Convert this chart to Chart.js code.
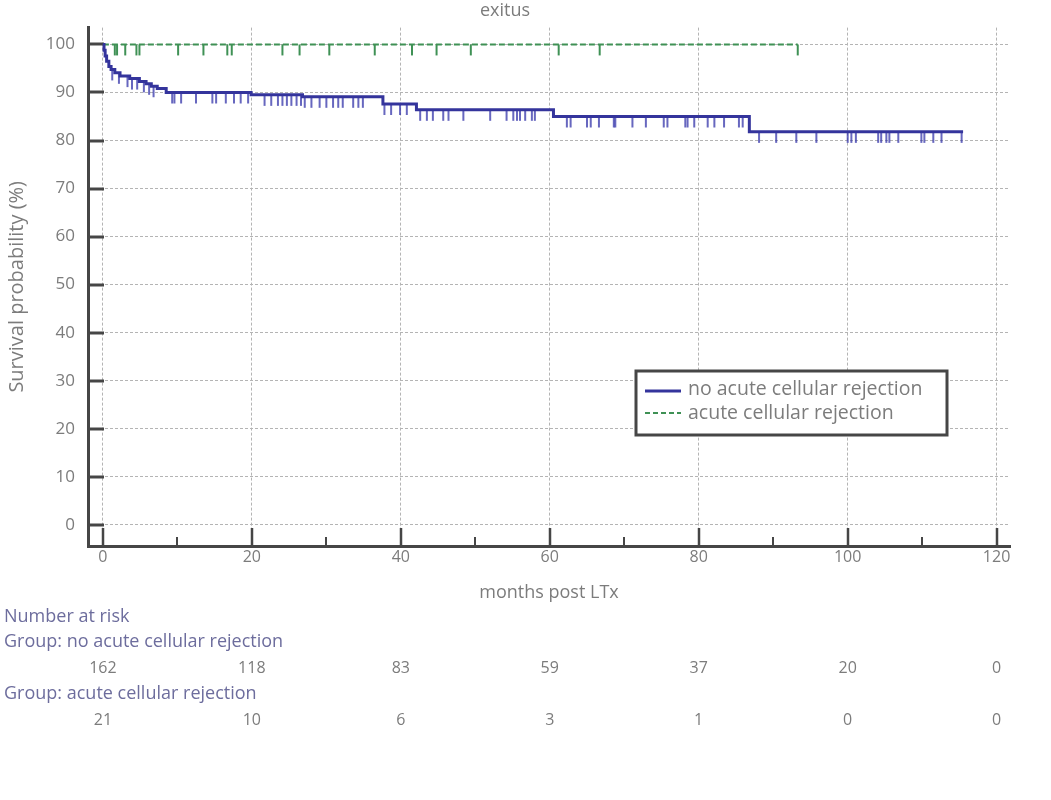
<!DOCTYPE html>
<html lang="en">
<head>
<meta charset="UTF-8">
<title>exitus</title>
<script src="https://cdn.jsdelivr.net/npm/chart.js@4.4.0/dist/chart.umd.min.js"></script>
<style>
    body { margin: 0; background: #fff; }
    canvas { display: block; }
</style>
</head>
<body>
<canvas id="km" width="1051" height="800"></canvas>
<script>
// Kaplan-Meier curve, group without acute cellular rejection (event time, survival %)
const noRejTimes = [0, 0.15, 0.3, 0.5, 0.8, 1.1, 1.6, 2.3, 3.6, 4.9, 5.8, 6.5, 7.3, 8.5, 19.9, 26.8, 37.6, 42.1, 60.5, 86.8, 115.5];
const noRejSurv  = [100, 98.8, 97.6, 96.5, 95.4, 94.8, 94.1, 93.4, 92.9, 92.3, 91.8, 91.3, 90.8, 90.0, 89.5, 89.1, 87.6, 86.4, 85.0, 81.8, 81.8];
// censored observations (months)
const noRejCensored = [1.25, 2.15, 3.3, 3.9, 4.6, 5.5, 6.2, 6.8, 9.3, 9.6, 10.5, 12.5, 14.7, 15.2, 16.5, 17.6, 18.5, 19.5,
    21.7, 22.6, 23.5, 24.1, 24.7, 25.3, 26.0, 26.6, 27.1, 28.0, 29.1, 30.0, 30.9, 31.6, 32.2, 33.6, 34.3, 34.9,
    37.8, 38.7, 39.9, 40.8, 42.6, 43.5, 44.3, 45.7, 46.4, 48.4, 52.0, 54.2, 55.1, 55.6, 56.0, 56.7, 57.6, 58.0,
    62.3, 62.8, 65.0, 65.5, 66.6, 68.6, 68.8, 71.1, 72.9, 75.3, 75.8, 78.2, 78.5, 79.4, 81.2, 82.1, 83.4, 85.4, 85.9,
    88.1, 90.4, 93.1, 95.8, 100.0, 100.5, 101.1, 104.1, 104.5, 105.2, 105.6, 106.8, 109.9, 110.3, 111.5, 112.6, 115.3];

// group with acute cellular rejection: no events
const rejTimes = [0, 93.3];
const rejSurv  = [100, 100];
const rejCensored = [1.6, 1.9, 3.0, 4.5, 4.9, 10.1, 13.5, 16.7, 17.3, 24.1, 26.4, 30.4, 36.5, 41.5, 44.8, 49.4, 61.2, 66.7, 93.3];

const xTicks = [0, 20, 40, 60, 80, 100, 120];
const xMinorTicks = [10, 30, 50, 70, 90, 110];
const yTicks = [0, 10, 20, 30, 40, 50, 60, 70, 80, 90, 100];

// number at risk table
const riskTimes = [0, 20, 40, 60, 80, 100, 120];
const riskNoRej = [162, 118, 83, 59, 37, 20, 0];
const riskRej   = [21, 10, 6, 3, 1, 0, 0];

const BLUE = '#34349c';
const GREEN = '#3f9155';
const AXIS = '#464646';
const TEXT = '#7c7c7c';
const GROUP_TEXT = '#6d6d9d';

Chart.defaults.font.family = "'Open Sans', sans-serif";

// survival value of a step curve at time t
function stepValue(times, surv, t) {
    let v = surv[0];
    for (let i = 0; i < times.length; i++) {
        if (times[i] <= t) v = surv[i];
    }
    return v;
}

// small vertical censor tick hanging below the curve
function censorMark(color, len, width) {
    const c = document.createElement('canvas');
    c.width = width + 2;
    c.height = len * 2 + 2;
    const g = c.getContext('2d');
    g.strokeStyle = color;
    g.lineWidth = width;
    g.beginPath();
    g.moveTo(c.width / 2, c.height / 2);
    g.lineTo(c.width / 2, c.height / 2 + len);
    g.stroke();
    return c;
}

const toPoints = (xs, ys) => xs.map((x, i) => ({ x: x, y: ys[i] }));
const censorPoints = (cs, times, surv) => cs.map(t => ({ x: t, y: stepValue(times, surv, t) }));

const decorations = {
    id: 'decorations',
    beforeDatasetsDraw(chart) {
        const { ctx, scales: { x, y } } = chart;
        ctx.save();
        ctx.strokeStyle = AXIS;
        ctx.lineWidth = 3;
        yTicks.forEach(v => {
            const py = Math.round(y.getPixelForValue(v));
            ctx.beginPath();
            ctx.moveTo(x.left, py);
            ctx.lineTo(x.left + 16, py);
            ctx.stroke();
        });
        ctx.lineWidth = 2.5;
        xTicks.forEach(v => {
            const px = Math.round(x.getPixelForValue(v));
            ctx.beginPath();
            ctx.moveTo(px, y.bottom);
            ctx.lineTo(px, y.bottom - 18);
            ctx.stroke();
        });
        ctx.lineWidth = 2;
        xMinorTicks.forEach(v => {
            const px = Math.round(x.getPixelForValue(v));
            ctx.beginPath();
            ctx.moveTo(px, y.bottom);
            ctx.lineTo(px, y.bottom - 9);
            ctx.stroke();
        });
        ctx.restore();
    },
    afterDraw(chart) {
        const { ctx, scales: { x, y } } = chart;
        ctx.save();
        // axis titles
        ctx.fillStyle = TEXT;
        ctx.font = "18px 'Open Sans'";
        ctx.textAlign = 'center';
        ctx.textBaseline = 'middle';
        ctx.fillText('months post LTx', (x.left + x.right) / 2, 593);
        ctx.save();
        ctx.translate(17, (y.top + y.bottom) / 2);
        ctx.rotate(-Math.PI / 2);
        ctx.font = "20px 'Open Sans'";
        ctx.fillText('Survival probability (%)', 0, 0);
        ctx.restore();

        // number at risk
        ctx.textAlign = 'left';
        ctx.fillStyle = GROUP_TEXT;
        ctx.font = "18px 'Open Sans'";
        ctx.fillText('Number at risk', 4, 617);
        ctx.fillText('Group: no acute cellular rejection', 4, 642);
        ctx.fillText('Group: acute cellular rejection', 4, 694);
        ctx.textAlign = 'center';
        ctx.fillStyle = TEXT;
        ctx.font = "16px 'Open Sans'";
        riskTimes.forEach((t, i) => {
            const px = x.getPixelForValue(t);
            ctx.fillText(String(riskNoRej[i]), px, 668);
            ctx.fillText(String(riskRej[i]), px, 720);
        });

        // legend box
        ctx.fillStyle = '#fff';
        ctx.fillRect(636, 371, 311, 64);
        ctx.strokeStyle = AXIS;
        ctx.lineWidth = 3;
        ctx.strokeRect(636, 371, 311, 64);
        ctx.strokeStyle = BLUE;
        ctx.lineWidth = 3;
        ctx.beginPath();
        ctx.moveTo(645, 391);
        ctx.lineTo(681, 391);
        ctx.stroke();
        ctx.strokeStyle = GREEN;
        ctx.lineWidth = 2;
        ctx.setLineDash([5, 3]);
        ctx.beginPath();
        ctx.moveTo(645, 413);
        ctx.lineTo(681, 413);
        ctx.stroke();
        ctx.setLineDash([]);
        ctx.fillStyle = TEXT;
        ctx.textAlign = 'left';
        ctx.font = "19.5px 'Open Sans'";
        ctx.fillText('no acute cellular rejection', 688, 389);
        ctx.fillText('acute cellular rejection', 688, 413);
        ctx.restore();
    }
};

new Chart(document.getElementById('km'), {
    type: 'scatter',
    data: {
        datasets: [
            {
                label: 'no acute cellular rejection',
                data: toPoints(noRejTimes, noRejSurv),
                showLine: true,
                stepped: 'before',
                borderColor: BLUE,
                borderWidth: 3,
                pointRadius: 0
            },
            {
                label: 'censored',
                data: censorPoints(noRejCensored, noRejTimes, noRejSurv),
                pointStyle: censorMark('rgba(52,52,170,0.75)', 11, 2),
                pointRadius: 5
            },
            {
                label: 'acute cellular rejection',
                data: toPoints(rejTimes, rejSurv),
                showLine: true,
                stepped: 'before',
                borderColor: GREEN,
                borderWidth: 2,
                borderDash: [6, 3],
                pointRadius: 0
            },
            {
                label: 'censored',
                data: censorPoints(rejCensored, rejTimes, rejSurv),
                pointStyle: censorMark(GREEN, 11, 2),
                pointRadius: 5
            }
        ]
    },
    options: {
        responsive: false,
        animation: false,
        layout: { padding: { left: 0, right: 41, top: 0, bottom: 0 } },
        plugins: {
            legend: { display: false },
            tooltip: { enabled: false },
            title: {
                display: true,
                text: 'exitus',
                color: TEXT,
                font: { size: 18, weight: 'normal' },
                padding: { top: 0, bottom: 6 }
            }
        },
        scales: {
            x: {
                type: 'linear',
                min: -2,
                max: 121.8,
                afterBuildTicks: s => { s.ticks = xTicks.map(v => ({ value: v })); },
                afterFit: s => { s.height = 254; },
                ticks: { color: TEXT, font: { size: 16 }, padding: 2, maxRotation: 0 },
                grid: { color: '#b4b4b4', lineWidth: 1, drawTicks: false },
                border: { display: true, color: AXIS, width: 3, dash: [3, 2] }
            },
            y: {
                type: 'linear',
                min: -4.4,
                max: 103.5,
                afterBuildTicks: s => { s.ticks = yTicks.map(v => ({ value: v })); },
                afterFit: s => { s.width = 88; },
                ticks: { color: TEXT, font: { size: 17 }, padding: 13 },
                grid: { color: '#b4b4b4', lineWidth: 1, drawTicks: false },
                border: { display: true, color: AXIS, width: 3, dash: [3, 2] }
            }
        }
    },
    plugins: [decorations]
});
</script>
</body>
</html>
